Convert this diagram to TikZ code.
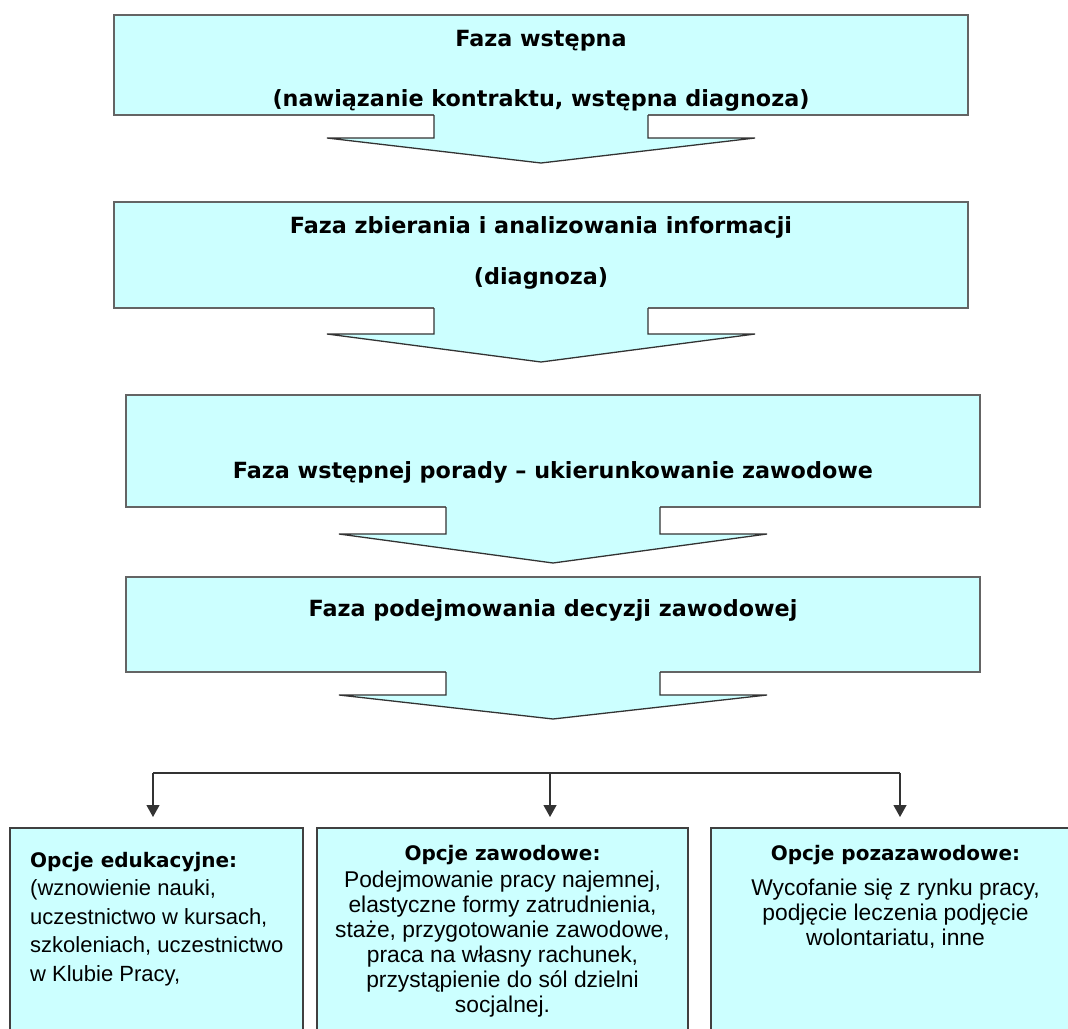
\documentclass[tikz,border=0pt]{standalone}
\usepackage{fontspec}
\setmainfont{Liberation Sans}
\newfontfamily\headfont{DejaVu Sans}
\usepackage{tikz}
\usetikzlibrary{arrows.meta,positioning}
\definecolor{calloutcyan}{RGB}{204,255,255}
\definecolor{edgegray}{RGB}{100,100,100}
\newcommand{\optitle}{\headfont\bfseries\fontsize{20}{25}\selectfont}
% stem and arrow head below a phase box: node, stem length, head length
\newcommand{\calloutarrow}[3]{%
\fill[calloutcyan]([xshift=-107pt,yshift=1.5pt]#1.south) rectangle ([xshift=107pt,yshift=-#2pt]#1.south);
\filldraw[draw=black!80,line width=1.3pt,fill=calloutcyan]([xshift=-107pt]#1.south)--++(0,-#2pt)--++(-107pt,0)--([yshift=-#2pt-#3pt]#1.south)--([xshift=214pt,yshift=-#2pt]#1.south)--++(-107pt,0)--([xshift=107pt]#1.south);}

\begin{document}
\begin{tikzpicture}[x=1pt,y=1pt,phase/.style={draw=edgegray,line width=1.5pt,fill=calloutcyan,minimum width=854pt,inner sep=0pt,outer sep=0pt},phasetext/.style={anchor=base,inner sep=0pt,font=\headfont\bfseries\fontsize{22.3}{26}\selectfont},option/.style={draw=black!75,line width=1.3pt,fill=calloutcyan,minimum height=240pt,inner sep=0pt,outer sep=0pt,anchor=north west},opttext/.style={inner sep=0pt,font=\fontsize{22.8}{25}\selectfont},split/.style={draw=black!80,line width=1.2pt},optarr/.style={split,-{Triangle[length=12pt,width=13pt]},shorten >=11pt}]
\useasboundingbox (0,0) rectangle (1068,-1028);
\clip (0,0) rectangle (1068,-1028);
% phases
\node[phase,minimum height=100pt] (f1) at (541,-65) {};
\node[phase,minimum height=106pt,below=87pt of f1] (f2) {};
\node[phase,minimum height=112pt,below=87pt of f2,xshift=12pt] (f3) {};
\node[phase,minimum height=95pt,below=70pt of f3] (f4) {};
\calloutarrow{f1}{23}{25}\calloutarrow{f2}{26}{28}\calloutarrow{f3}{27}{29}\calloutarrow{f4}{23}{24}
\node[phasetext] (t1a) at ([yshift=-31pt]f1.north) {Faza wstępna};
\node[phasetext] (t1b) at ([yshift=-91pt]f1.north) {(nawiązanie kontraktu, wstępna diagnoza)};
\node[phasetext] (t2a) at ([yshift=-31pt]f2.north) {Faza zbierania i analizowania informacji};
\node[phasetext] (t2b) at ([yshift=-82pt]f2.north) {(diagnoza)};
\node[phasetext] (t3) at ([yshift=-83pt]f3.north) {Faza wstępnej porady – ukierunkowanie zawodowe};
\node[phasetext] (t4) at ([yshift=-39pt]f4.north) {Faza podejmowania decyzji zawodowej};
% options
\node[option,minimum width=293pt] (o1) at (10,-828) {};
\node[option,minimum width=371pt] (o2) at (317,-828) {};
\node[option,minimum width=369pt] (o3) at (711,-828) {};
\node[opttext,anchor=north west,align=left,font=\fontsize{22}{28.5}\selectfont] (e1) at ([xshift=20pt,yshift=-24pt]o1.north west) {{\optitle Opcje edukacyjne:}\\(wznowienie nauki,\\uczestnictwo w kursach,\\szkoleniach, uczestnictwo\\w Klubie Pracy,};
\node[opttext,anchor=north,align=center] (e2) at ([yshift=-17pt]o2.north) {{\optitle Opcje zawodowe:}\\[2pt]Podejmowanie pracy najemnej,\\elastyczne formy zatrudnienia,\\staże, przygotowanie zawodowe,\\praca na własny rachunek,\\przystąpienie do sól dzielni\\socjalnej.};
\node[opttext,anchor=north,align=center] (e3) at ([yshift=-17pt]o3.north) {{\optitle Opcje pozazawodowe:}\\[10pt]Wycofanie się z rynku pracy,\\podjęcie leczenia podjęcie\\wolontariatu, inne};
% split into options
\coordinate (sl) at (153,-773);\coordinate (sm) at (550,-773);\coordinate (sr) at (900,-773);
\draw[split](sl)--(sr);\draw[optarr](sl)--(sl|-o1.north);\draw[optarr](sm)--(sm|-o2.north);\draw[optarr](sr)--(sr|-o3.north);
\end{tikzpicture}
\end{document}
